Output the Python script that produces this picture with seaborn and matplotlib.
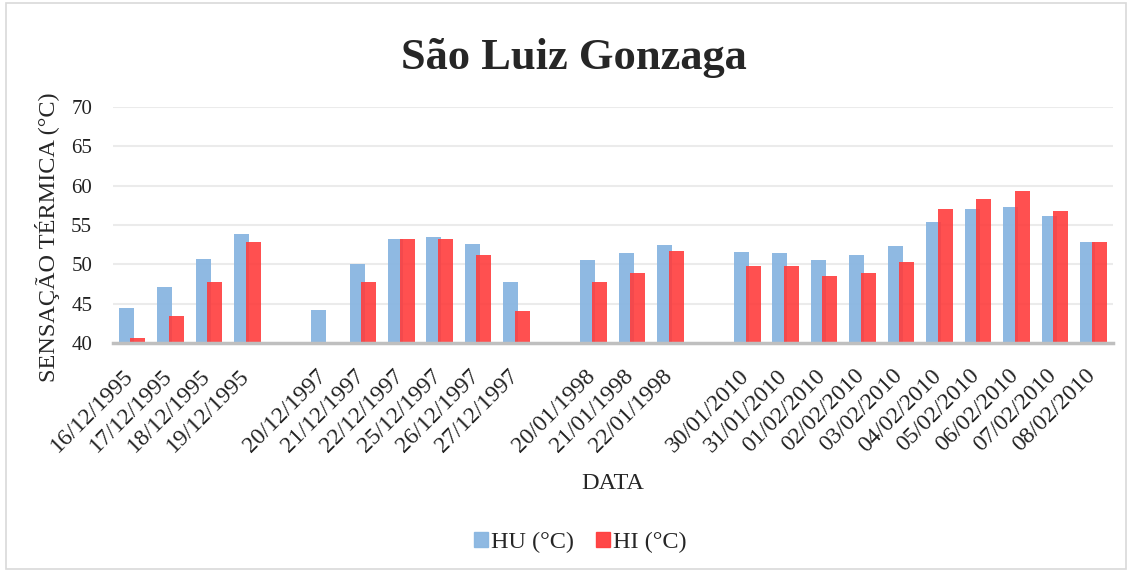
import numpy as np
import pandas as pd
import matplotlib
matplotlib.use("Agg")
import matplotlib.pyplot as plt
import matplotlib.transforms as mtransforms
import seaborn as sns
from matplotlib.patches import Rectangle

# Dates (blank entries are the gaps between campaigns)
dates = ["16/12/1995", "17/12/1995", "18/12/1995", "19/12/1995", " ",
         "20/12/1997", "21/12/1997", "22/12/1997", "25/12/1997", "26/12/1997", "27/12/1997", "  ",
         "20/01/1998", "21/01/1998", "22/01/1998", "   ",
         "30/01/2010", "31/01/2010", "01/02/2010", "02/02/2010", "03/02/2010",
         "04/02/2010", "05/02/2010", "06/02/2010", "07/02/2010", "08/02/2010"]

hu = [44.5, 47.1, 50.7, 53.9, np.nan,
      44.2, 50.0, 53.2, 53.5, 52.6, 47.8, np.nan,
      50.6, 51.4, 52.4, np.nan,
      51.6, 51.4, 50.6, 51.2, 52.3, 55.4, 57.0, 57.3, 56.2, 52.9]

hi = [40.6, 43.4, 47.8, 52.9, np.nan,
      np.nan, 47.7, 53.2, 53.2, 51.2, 44.1, np.nan,
      47.8, 48.9, 51.7, np.nan,
      49.8, 49.8, 48.5, 48.9, 50.3, 57.0, 58.3, 59.3, 56.8, 52.9]

series = ["HU (°C)", "HI (°C)"]
colors = ["#89B6E1", "#FF3D3D"]

df = pd.DataFrame({
    "DATA": dates * 2,
    "valor": hu + hi,
    "serie": [series[0]] * len(dates) + [series[1]] * len(dates),
}).dropna()

sns.set_style("white")
plt.rcParams["font.family"] = ["Liberation Serif", "DejaVu Serif"]

fig = plt.figure(figsize=(11.32, 5.72), dpi=100)
ax = fig.add_axes([0.0998, 0.4003, 0.883, 0.4127])

sns.barplot(data=df, x="DATA", y="valor", hue="serie", order=dates,
            hue_order=series, palette=colors, width=0.78, ax=ax,
            saturation=1, legend=False)

# Excel-like overlapping bars, HI drawn translucent on top of HU
for p in ax.patches:
    fc = p.get_facecolor()
    if fc[0] > 0.9:  # red = HI
        p.set_x(p.get_x() - 0.045)
        p.set_alpha(0.9)
        p.set_zorder(3)
    else:
        p.set_x(p.get_x() + 0.045)
        p.set_alpha(0.95)
        p.set_zorder(2)
    p.set_edgecolor("none")

ax.set_ylim(40, 70)
ax.set_yticks(range(40, 71, 5))
ax.set_xlim(-0.5, len(dates) - 0.5)
ax.yaxis.grid(True, color="#EBEBEB", linewidth=1.5)
ax.set_axisbelow(True)
for s in ["top", "right", "left"]:
    ax.spines[s].set_visible(False)
ax.spines["bottom"].set_color("#BFBFBF")
ax.spines["bottom"].set_linewidth(2.5)
ax.spines["bottom"].set_zorder(4)

ax.tick_params(axis="both", length=0, colors="#222222")
ax.tick_params(axis="y", pad=15, labelsize=15)
ax.tick_params(axis="x", pad=16, labelsize=17)
ax.set_xticks(range(len(dates)))
ax.set_xticklabels(dates, rotation=45, ha="right", va="top", rotation_mode="anchor")
shift = mtransforms.ScaledTranslation(-0.09, 0.0, fig.dpi_scale_trans)
for lbl in ax.get_xticklabels():
    lbl.set_transform(lbl.get_transform() + shift)

ax.set_xlabel("DATA", fontsize=17.5, va="center")
ax.xaxis.set_label_coords(0.5, -0.593)
ax.set_ylabel("SENSAÇÃO TÉRMICA (°C)", fontsize=17.5, va="center")
ax.yaxis.set_label_coords(-0.066, 0.45)
fig.text(0.507, 1 - 58 / 572, "São Luiz Gonzaga", fontsize=32, fontweight="bold",
         ha="center", va="center")

handles = [Rectangle((0, 0), 1, 1, color=c, alpha=0.95) for c in colors]
fig.legend(handles, series, loc="center", bbox_to_anchor=(0.513, 0.051), ncol=2,
           frameon=False, fontsize=17.5, handlelength=0.55, handleheight=0.55,
           handletextpad=0.15, columnspacing=0.9)

fig.patches.append(Rectangle((0.005, 0.005), 0.99, 0.99, transform=fig.transFigure,
                             fill=False, edgecolor="#D9D9D9", linewidth=1.2))

fig.savefig("out.png", dpi=100)
